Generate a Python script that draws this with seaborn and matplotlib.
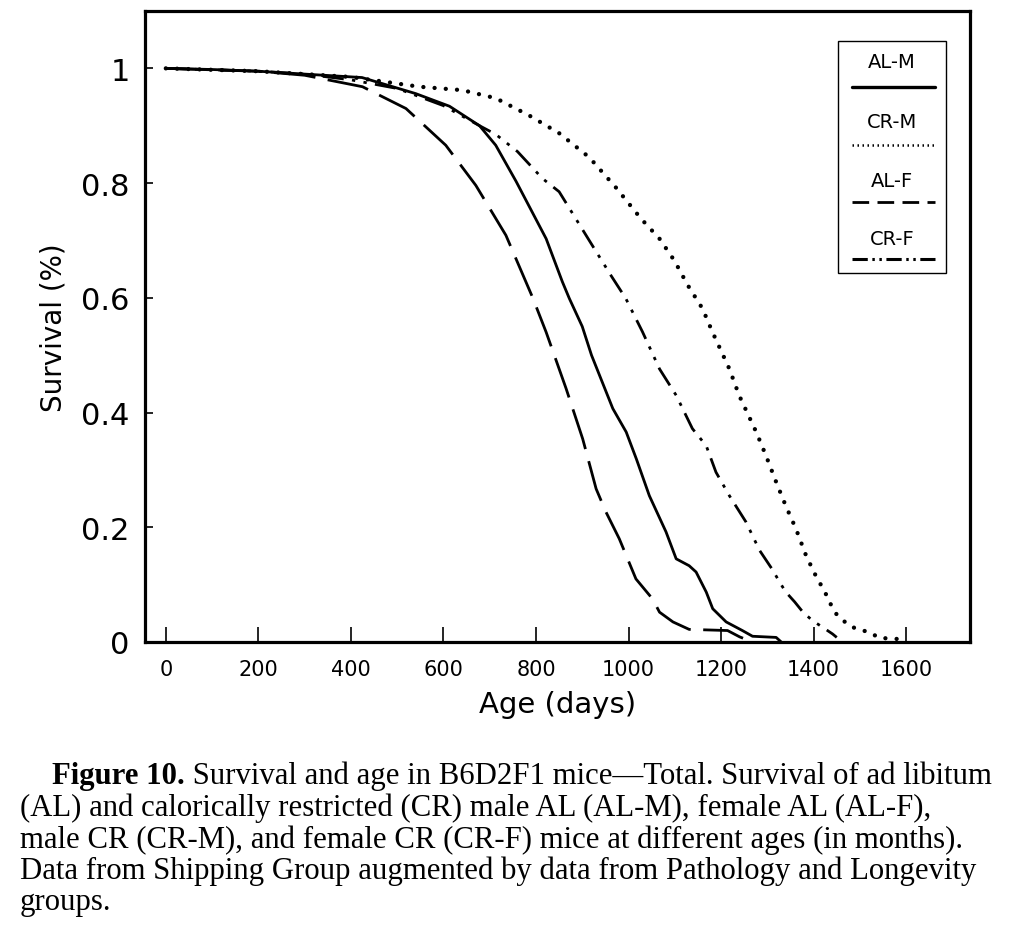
import numpy as np
import pandas as pd
import matplotlib
matplotlib.use('Agg')
import matplotlib.pyplot as plt
import seaborn as sns
from matplotlib.lines import Line2D
from matplotlib.patches import Rectangle

# ---------------- data ----------------
series_names = ['AL-M', 'CR-M', 'AL-F', 'CR-F']

alm_days = [0, 100, 200, 300, 424, 540, 613, 678, 713, 757, 822, 857, 872, 900, 920,
            966, 995, 1017, 1045, 1081, 1103, 1131, 1146, 1168, 1182, 1211, 1246, 1268, 1319, 1330]
alm_surv = [1.0, 0.998, 0.995, 0.99, 0.984, 0.956, 0.934, 0.90, 0.866, 0.803, 0.703, 0.628, 0.599,
            0.55, 0.50, 0.407, 0.366, 0.319, 0.255, 0.192, 0.145, 0.133, 0.122, 0.087, 0.058,
            0.035, 0.02, 0.01, 0.008, 0.0]

crm_days = [0, 200, 400, 548, 641, 713, 785, 850, 915, 973, 1027, 1067, 1099, 1128, 1160,
            1181, 1218, 1239, 1276, 1297, 1319, 1340, 1362, 1384, 1408, 1423, 1434, 1449, 1473,
            1492, 1521, 1542, 1570, 1600]
crm_surv = [1.0, 0.995, 0.985, 0.968, 0.962, 0.948, 0.918, 0.887, 0.845, 0.792, 0.738, 0.703,
            0.665, 0.622, 0.581, 0.541, 0.476, 0.43, 0.366, 0.325, 0.279, 0.237, 0.197, 0.15,
            0.11, 0.09, 0.07, 0.049, 0.031, 0.023, 0.017, 0.007, 0.006, 0.004]

alf_days = [0, 200, 300, 425, 519, 605, 670, 735, 793, 822, 865, 901, 930, 951, 980, 1016,
            1052, 1067, 1096, 1131, 1214, 1240, 1268]
alf_surv = [1.0, 0.995, 0.988, 0.968, 0.93, 0.866, 0.796, 0.709, 0.60, 0.54, 0.442, 0.354,
            0.267, 0.227, 0.18, 0.11, 0.075, 0.052, 0.035, 0.022, 0.02, 0.009, 0.0]

crf_days = [0, 200, 300, 400, 500, 600, 678, 713, 760, 814, 850, 886, 922, 962, 994, 1030,
            1067, 1103, 1138, 1168, 1189, 1218, 1254, 1283, 1312, 1326, 1340, 1359, 1377, 1398,
            1419, 1441, 1450]
crf_surv = [1.0, 0.995, 0.99, 0.98, 0.965, 0.935, 0.90, 0.885, 0.855, 0.808, 0.785, 0.738,
            0.691, 0.639, 0.599, 0.541, 0.476, 0.43, 0.372, 0.342, 0.296, 0.255, 0.209, 0.16,
            0.125, 0.105, 0.087, 0.07, 0.052, 0.037, 0.026, 0.014, 0.008]

x_ticks = [0, 200, 400, 600, 800, 1000, 1200, 1400, 1600]
y_ticks = [0, 0.2, 0.4, 0.6, 0.8, 1.0]
y_ticklabels = ['0', '0.2', '0.4', '0.6', '0.8', '1']

caption_bold = 'Figure 10.'
caption_lines = [
    ' Survival and age in B6D2F1 mice\u2014Total. Survival of ad libitum',
    '(AL) and calorically restricted (CR) male AL (AL-M), female AL (AL-F),',
    'male CR (CR-M), and female CR (CR-F) mice at different ages (in months).',
    'Data from Shipping Group augmented by data from Pathology and Longevity',
    'groups.',
]

# ---------------- build table ----------------
frames = []
for name, d, s in [('AL-M', alm_days, alm_surv), ('CR-M', crm_days, crm_surv),
                   ('AL-F', alf_days, alf_surv), ('CR-F', crf_days, crf_surv)]:
    frames.append(pd.DataFrame({'Age': d, 'Survival': s, 'group': name}))
df = pd.concat(frames, ignore_index=True)

# ---------------- style ----------------
sns.set_theme(style='ticks')
plt.rcParams['font.family'] = ['DejaVu Sans']

W, H = 1022, 945
fig = plt.figure(figsize=(W / 100, H / 100), dpi=100)
fig.patch.set_facecolor('white')
ax = fig.add_axes([145 / W, 1 - 643 / H, 825 / W, 631 / H])
ax.set_facecolor('white')

line_styles = {
    'AL-M': dict(linestyle='-', linewidth=2.0),
    'CR-M': dict(linestyle=(0, (0.01, 2.6)), linewidth=3.1, dash_capstyle='round'),
    'AL-F': dict(linestyle=(0, (15, 4.5)), linewidth=2.0),
    'CR-F': dict(linestyle=(0, (7.5, 3, 1.2, 3, 1.2, 3)), linewidth=2.0),
}

for name in series_names:
    sub = df[df['group'] == name]
    sns.lineplot(data=sub, x='Age', y='Survival', ax=ax, color='black',
                 estimator=None, sort=False, legend=False, **line_styles[name])

ax.set_xlim(-45, 1738)
ax.set_ylim(0, 1.1)
ax.set_xticks(x_ticks)
ax.set_xticklabels([str(t) for t in x_ticks], fontsize=15)
ax.set_yticks(y_ticks)
ax.set_yticklabels(y_ticklabels, fontsize=22)
ax.tick_params(axis='x', direction='in', length=11, width=1.2, pad=12, colors='black')
ax.tick_params(axis='y', direction='in', length=6, width=1.2, pad=11, colors='black')
ax.set_xlabel('Age (days)', fontsize=21, labelpad=8, color='black')
ax.set_ylabel('Survival (%)', fontsize=20, labelpad=10, color='black')
for sp in ax.spines.values():
    sp.set_visible(True)
    sp.set_linewidth(2.3)
    sp.set_color('black')

# ---------------- legend (label above sample) ----------------
def ax_x(px):
    return (px - 145) / 825

def ax_y(py):
    return 1 - (py - 12) / 631

ax.add_patch(Rectangle((ax_x(838), ax_y(274)), ax_x(946) - ax_x(838), ax_y(42) - ax_y(274),
                       transform=ax.transAxes, fill=False, edgecolor='black', linewidth=1.0,
                       zorder=5))
legend_text_y = [62, 122, 182, 240]
legend_line_y = [88, 146, 203, 260]
legend_styles = {
    'AL-M': dict(linestyle='-', linewidth=2.4),
    'CR-M': dict(linestyle=(0, (0.6, 1.4)), linewidth=1.8),
    'AL-F': dict(linestyle=(0, (6, 3)), linewidth=2.0),
    'CR-F': dict(linestyle=(0, (5, 1.5, 0.8, 1.5, 0.8, 1.5)), linewidth=2.2),
}
for name, ty, ly in zip(series_names, legend_text_y, legend_line_y):
    ax.text(ax_x(892), ax_y(ty), name, transform=ax.transAxes, ha='center', va='center',
            fontsize=14, color='black', zorder=6)
    ax.add_line(Line2D([ax_x(852), ax_x(935)], [ax_y(ly), ax_y(ly)], transform=ax.transAxes,
                       color='black', zorder=6, **legend_styles[name]))

# ---------------- caption ----------------
serif = ['Liberation Serif', 'DejaVu Serif']
renderer = fig.canvas.get_renderer()
probe = fig.text(0, 0, caption_lines[3], fontsize=20, family=serif)
wpx = probe.get_window_extent(renderer).width
probe.remove()
cap_fs = 20 * 957 / wpx

baselines = [784, 816, 848, 879, 910]
tb = fig.text(52 / W, 1 - baselines[0] / H, caption_bold, fontsize=cap_fs, family=serif,
              fontweight='bold', va='baseline', ha='left', color='black')
bb = tb.get_window_extent(renderer)
fig.text(bb.x1 / W, 1 - baselines[0] / H, caption_lines[0], fontsize=cap_fs, family=serif,
         va='baseline', ha='left', color='black')
for line, yb in zip(caption_lines[1:], baselines[1:]):
    fig.text(20 / W, 1 - yb / H, line, fontsize=cap_fs, family=serif, va='baseline',
             ha='left', color='black')

fig.savefig('out.png', dpi=100, facecolor='white')
